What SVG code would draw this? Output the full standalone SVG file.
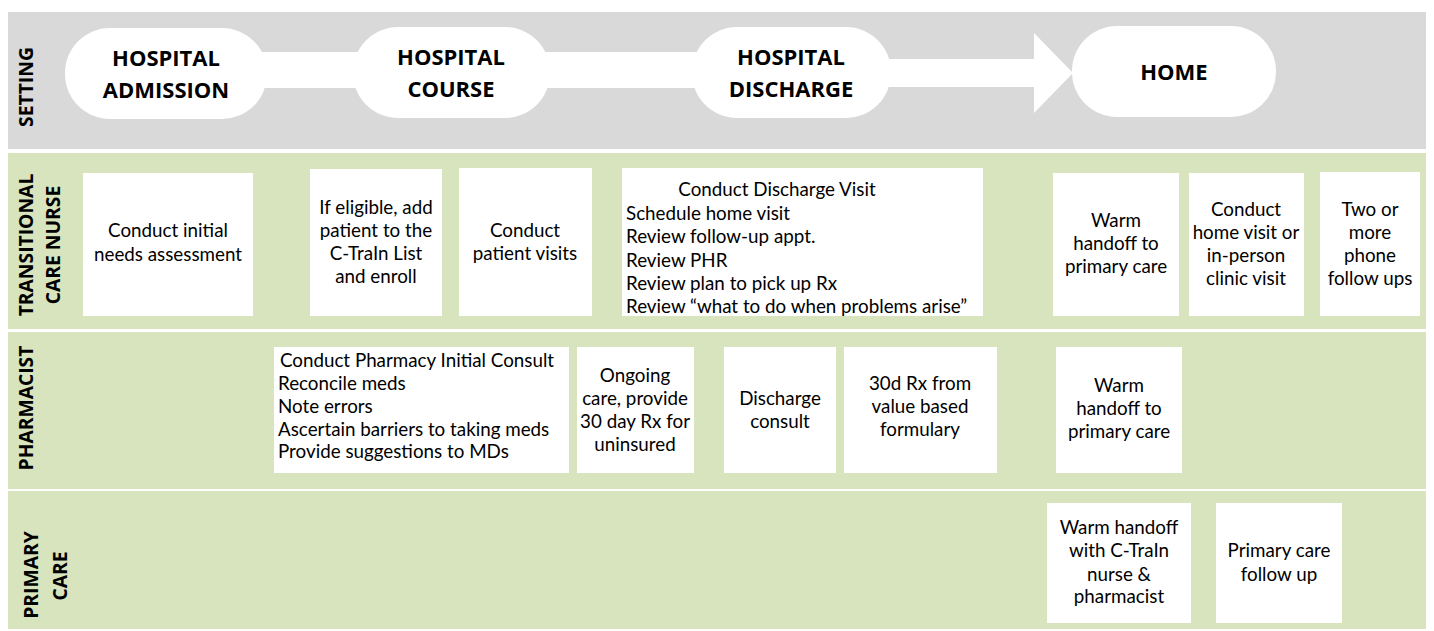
<svg xmlns="http://www.w3.org/2000/svg" width="1434" height="631" viewBox="0 0 1434 631">
<style>
.bg{fill:#ffffff}
.gray{fill:#D9D9D9}
.green{fill:#D7E4BD}
.white{fill:#ffffff}
.hd{font-family:"Open Sans","Liberation Sans",sans-serif;font-weight:bold;font-size:22px;fill:#000;text-anchor:middle}
.lbl{font-family:"Open Sans","Liberation Sans",sans-serif;font-weight:bold;font-size:19.3px;fill:#000;text-anchor:middle}
.t{font-family:Lato,"Liberation Sans",sans-serif;font-size:18.8px;fill:#000}
.c{text-anchor:middle}
</style>
<rect class="bg" x="0" y="0" width="1434" height="631"/>
<g id="lanes">
  <rect class="gray" x="8" y="12" width="1418" height="137"/>
  <rect class="green" x="8" y="153" width="1418" height="176"/>
  <rect class="green" x="8" y="332" width="1418" height="157"/>
  <rect class="green" x="8" y="491" width="1418" height="138"/>
  <text class="lbl" transform="translate(33,87) rotate(-90)">SETTING</text>
  <text class="lbl" transform="translate(33,245) rotate(-90)">TRANSITIONAL</text>
  <text class="lbl" transform="translate(60,245) rotate(-90)">CARE NURSE</text>
  <text class="lbl" transform="translate(33,408) rotate(-90)">PHARMACIST</text>
  <text class="lbl" transform="translate(38,575) rotate(-90)">PRIMARY</text>
  <text class="lbl" transform="translate(67,576) rotate(-90)">CARE</text>
</g>
<g id="connectors">
  <rect class="white" x="255" y="52" width="110" height="36"/>
  <rect class="white" x="540" y="52" width="160" height="36"/>
  <polygon class="white" points="880,59 1034,59 1034,33 1073,73 1034,113 1034,87 880,87"/>
</g>
<g id="setting-admission">
  <rect class="white" x="65" y="28" width="202" height="91" rx="45" ry="45"/>
  <text class="hd" x="166" y="66">HOSPITAL</text>
  <text class="hd" x="166" y="98">ADMISSION</text>
</g>
<g id="setting-course">
  <rect class="white" x="353" y="27" width="197" height="91" rx="45" ry="45"/>
  <text class="hd" x="451" y="65">HOSPITAL</text>
  <text class="hd" x="451" y="97">COURSE</text>
</g>
<g id="setting-discharge">
  <rect class="white" x="692" y="27" width="199" height="91" rx="45" ry="45"/>
  <text class="hd" x="791" y="65">HOSPITAL</text>
  <text class="hd" x="791" y="97">DISCHARGE</text>
</g>
<g id="setting-home">
  <rect class="white" x="1072" y="26" width="204" height="91" rx="45" ry="45"/>
  <text class="hd" x="1174" y="80">HOME</text>
</g>
<g id="tcn-assessment">
  <rect class="white" x="83" y="173" width="170" height="143"/>
  <text class="t c" x="168" y="237">Conduct initial</text>
  <text class="t c" x="168" y="261">needs assessment</text>
</g>
<g id="tcn-enroll">
  <rect class="white" x="310" y="169" width="132" height="147"/>
  <text class="t c" x="376" y="214">If eligible, add</text>
  <text class="t c" x="376" y="237">patient to the</text>
  <text class="t c" x="376" y="260">C-TraIn List</text>
  <text class="t c" x="376" y="283">and enroll</text>
</g>
<g id="tcn-visits">
  <rect class="white" x="459" y="168" width="133" height="148"/>
  <text class="t c" x="525" y="237">Conduct</text>
  <text class="t c" x="525" y="260">patient visits</text>
</g>
<g id="tcn-discharge-visit">
  <rect class="white" x="622" y="168" width="361" height="148"/>
  <text class="t c" x="777" y="196">Conduct Discharge Visit</text>
  <text class="t" x="626" y="219.5">Schedule home visit</text>
  <text class="t" x="626" y="243">Review follow-up appt.</text>
  <text class="t" x="626" y="266.5">Review PHR</text>
  <text class="t" x="626" y="290">Review plan to pick up Rx</text>
  <text class="t" x="626" y="313">Review “what to do when problems arise”</text>
</g>
<g id="tcn-warm-handoff">
  <rect class="white" x="1053" y="173" width="126" height="143"/>
  <text class="t c" x="1116" y="227">Warm</text>
  <text class="t c" x="1116" y="250">handoff to</text>
  <text class="t c" x="1116" y="273">primary care</text>
</g>
<g id="tcn-home-visit">
  <rect class="white" x="1189" y="173" width="115" height="143"/>
  <text class="t c" x="1246" y="216">Conduct</text>
  <text class="t c" x="1246" y="239">home visit or</text>
  <text class="t c" x="1246" y="262">in-person</text>
  <text class="t c" x="1246" y="285">clinic visit</text>
</g>
<g id="tcn-phone">
  <rect class="white" x="1320" y="172" width="100" height="144"/>
  <text class="t c" x="1370" y="216">Two or</text>
  <text class="t c" x="1370" y="239">more</text>
  <text class="t c" x="1370" y="262">phone</text>
  <text class="t c" x="1370" y="285">follow ups</text>
</g>
<g id="ph-initial-consult">
  <rect class="white" x="274" y="347" width="295" height="126"/>
  <text class="t c" x="417" y="367">Conduct Pharmacy Initial Consult</text>
  <text class="t" x="278" y="390">Reconcile meds</text>
  <text class="t" x="278" y="413">Note errors</text>
  <text class="t" x="278" y="435.5">Ascertain barriers to taking meds</text>
  <text class="t" x="278" y="458">Provide suggestions to MDs</text>
</g>
<g id="ph-ongoing">
  <rect class="white" x="577" y="347" width="117" height="126"/>
  <text class="t c" x="635" y="382">Ongoing</text>
  <text class="t c" x="635" y="405">care, provide</text>
  <text class="t c" x="635" y="428">30 day Rx for</text>
  <text class="t c" x="635" y="451">uninsured</text>
</g>
<g id="ph-discharge-consult">
  <rect class="white" x="724" y="347" width="112" height="126"/>
  <text class="t c" x="780" y="405">Discharge</text>
  <text class="t c" x="780" y="428">consult</text>
</g>
<g id="ph-30d">
  <rect class="white" x="844" y="347" width="153" height="126"/>
  <text class="t c" x="920" y="390">30d Rx from</text>
  <text class="t c" x="920" y="413">value based</text>
  <text class="t c" x="920" y="436">formulary</text>
</g>
<g id="ph-warm-handoff">
  <rect class="white" x="1056" y="347" width="126" height="126"/>
  <text class="t c" x="1119" y="392">Warm</text>
  <text class="t c" x="1119" y="415">handoff to</text>
  <text class="t c" x="1119" y="438">primary care</text>
</g>
<g id="pc-warm-handoff">
  <rect class="white" x="1047" y="503" width="144" height="120"/>
  <text class="t c" x="1119" y="534">Warm handoff</text>
  <text class="t c" x="1119" y="557">with C-TraIn</text>
  <text class="t c" x="1119" y="581">nurse &amp;</text>
  <text class="t c" x="1119" y="603">pharmacist</text>
</g>
<g id="pc-follow-up">
  <rect class="white" x="1216" y="503" width="126" height="120"/>
  <text class="t c" x="1279" y="557">Primary care</text>
  <text class="t c" x="1279" y="581">follow up</text>
</g>
</svg>
